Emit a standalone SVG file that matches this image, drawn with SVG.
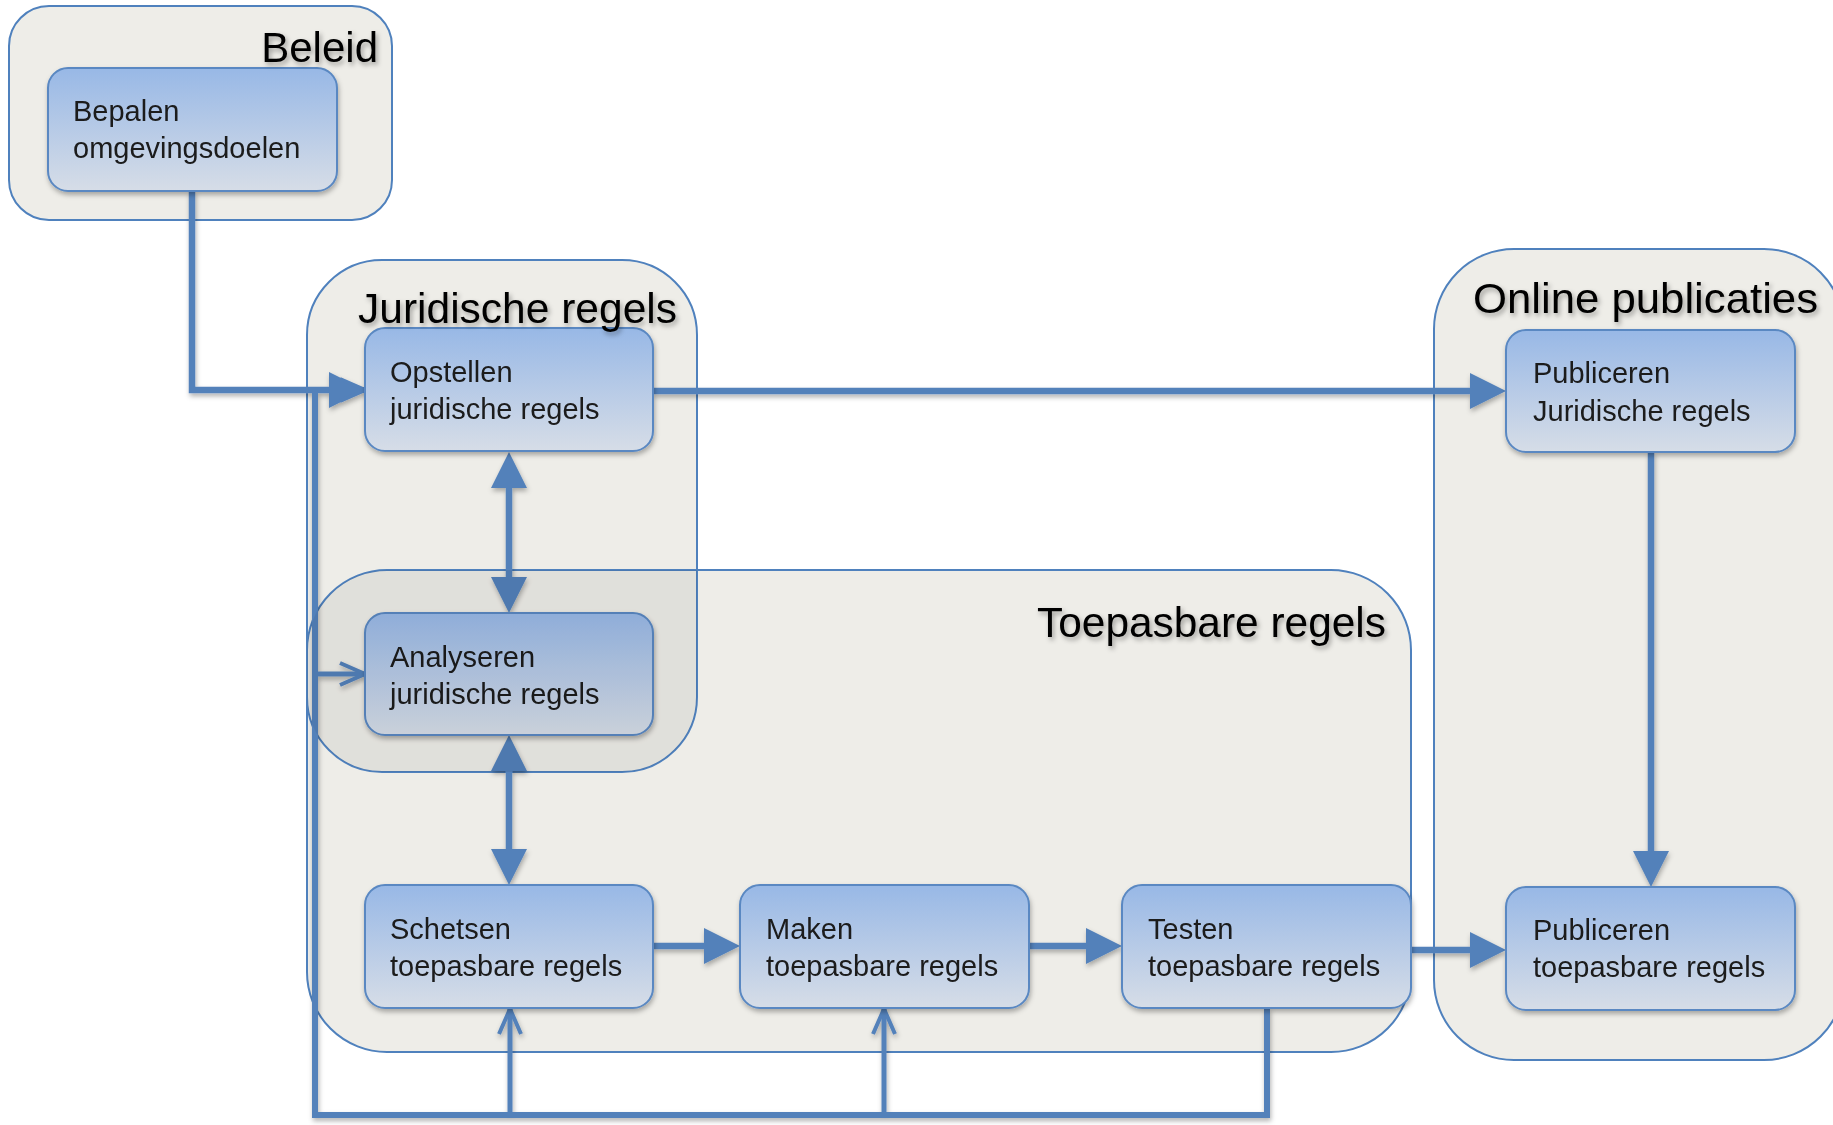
<svg xmlns="http://www.w3.org/2000/svg" width="1833" height="1125" viewBox="0 0 1833 1125">
<style>
.cont{fill:#EEEDE8;stroke:none}
.cstroke{fill:none;stroke:#4F81BD;stroke-width:2}
.title{font-family:"Liberation Sans",Arial,sans-serif;font-size:42px;fill:#000}
.node rect{fill:url(#ng);stroke:#5A88C2;stroke-width:2}
.node text{font-family:"Liberation Sans",Arial,sans-serif;font-size:29px;fill:#1a1a1a}
.thick{fill:none;stroke:#5381BA;stroke-width:6.5}
.thin{fill:none;stroke:#5381BA;stroke-width:5}
.loop{fill:none;stroke:#5381BA;stroke-width:6}
</style>
<defs>
<linearGradient id="ng" x1="0" y1="0" x2="0" y2="1">
<stop offset="0" stop-color="#98B8E6"/>
<stop offset="1" stop-color="#D6DDE7"/>
</linearGradient>
<filter id="sh" x="-10%" y="-10%" width="130%" height="140%">
<feDropShadow dx="1" dy="3" stdDeviation="2.5" flood-color="#000" flood-opacity="0.3"/>
</filter>
<filter id="tsh" x="-10%" y="-20%" width="130%" height="150%">
<feDropShadow dx="2" dy="3" stdDeviation="2.5" flood-color="#000" flood-opacity="0.35"/>
</filter>
<marker id="head" viewBox="0 0 36 36" refX="0" refY="18" markerWidth="36" markerHeight="36" markerUnits="userSpaceOnUse" orient="auto-start-reverse">
<path d="M0,0 L36,18 L0,36 Z" fill="#5381BA"/>
</marker>
<marker id="open" viewBox="-3 -3 31 28" refX="25" refY="11" markerWidth="31" markerHeight="28" markerUnits="userSpaceOnUse" orient="auto" overflow="visible">
<path d="M0,0 L25,11 L0,22" fill="none" stroke="#5381BA" stroke-width="4"/>
</marker>
<clipPath id="jclip">
<rect x="307" y="260" width="390" height="512" rx="75" ry="75"/>
</clipPath>
</defs>

<g id="containers">
<g id="beleid">
<rect class="cont" x="9" y="6" width="383" height="214" rx="40" ry="40"/>
<rect class="cstroke" x="9" y="6" width="383" height="214" rx="40" ry="40"/>
</g>
<g id="online-publicaties">
<rect class="cont" x="1434" y="249" width="410" height="811" rx="80" ry="80"/>
<rect class="cstroke" x="1434" y="249" width="410" height="811" rx="80" ry="80"/>
</g>
<g id="juridische-toepasbare">
<rect class="cont" x="307" y="570" width="1104" height="482" rx="80" ry="80"/>
<rect class="cont" x="307" y="260" width="390" height="512" rx="75" ry="75"/>
<rect class="cstroke" x="307" y="570" width="1104" height="482" rx="80" ry="80"/>
<rect class="cstroke" x="307" y="260" width="390" height="512" rx="75" ry="75"/>
</g>
</g>

<g id="connectors" filter="url(#sh)">
<path class="thick" d="M192,191 V390 H329" marker-end="url(#head)"/>
<path class="thick" d="M653,391 H1470" marker-end="url(#head)"/>
<path class="thick" d="M1651,452 V851" marker-end="url(#head)"/>
<path class="thick" d="M509,488 V577" marker-start="url(#head)" marker-end="url(#head)"/>
<path class="thick" d="M509,771 V849" marker-start="url(#head)" marker-end="url(#head)"/>
<path class="thick" d="M653,946 H704" marker-end="url(#head)"/>
<path class="thick" d="M1029,946 H1086" marker-end="url(#head)"/>
<path class="thick" d="M1411,950 H1470" marker-end="url(#head)"/>
<path class="loop" d="M1267,1008 V1115 H315 V390 H365" marker-end="url(#open)"/>
<path class="thin" d="M315,674 H365" marker-end="url(#open)"/>
<path class="thin" d="M510,1115 V1009" marker-end="url(#open)"/>
<path class="thin" d="M884,1115 V1009" marker-end="url(#open)"/>
</g>

<g id="node-bepalen" class="node" filter="url(#sh)">
<rect x="48" y="68" width="289" height="123" rx="20" ry="20"/>
<text x="73" y="121">Bepalen</text>
<text x="73" y="158">omgevingsdoelen</text>
</g>
<g id="node-opstellen" class="node" filter="url(#sh)">
<rect x="365" y="328" width="288" height="123" rx="20" ry="20"/>
<text x="390" y="382">Opstellen</text>
<text x="390" y="419">juridische regels</text>
</g>
<g id="node-analyseren" class="node" filter="url(#sh)">
<rect x="365" y="613" width="288" height="122" rx="20" ry="20"/>
<text x="390" y="667">Analyseren</text>
<text x="390" y="704">juridische regels</text>
</g>
<g id="node-schetsen" class="node" filter="url(#sh)">
<rect x="365" y="885" width="288" height="123" rx="20" ry="20"/>
<text x="390" y="939">Schetsen</text>
<text x="390" y="976">toepasbare regels</text>
</g>
<g id="node-maken" class="node" filter="url(#sh)">
<rect x="740" y="885" width="289" height="123" rx="20" ry="20"/>
<text x="766" y="939">Maken</text>
<text x="766" y="976">toepasbare regels</text>
</g>
<g id="node-testen" class="node" filter="url(#sh)">
<rect x="1122" y="885" width="289" height="123" rx="20" ry="20"/>
<text x="1148" y="939">Testen</text>
<text x="1148" y="976">toepasbare regels</text>
</g>
<g id="node-publiceren-juridisch" class="node" filter="url(#sh)">
<rect x="1506" y="330" width="289" height="122" rx="20" ry="20"/>
<text x="1533" y="383">Publiceren</text>
<text x="1533" y="421">Juridische regels</text>
</g>
<g id="node-publiceren-toepasbaar" class="node" filter="url(#sh)">
<rect x="1506" y="887" width="289" height="123" rx="20" ry="20"/>
<text x="1533" y="940">Publiceren</text>
<text x="1533" y="977">toepasbare regels</text>
</g>

<g id="overlap-tint" clip-path="url(#jclip)">
<rect x="307" y="570" width="1104" height="482" rx="80" ry="80" fill="#000" fill-opacity="0.055"/>
</g>

<g id="container-titles" filter="url(#tsh)">
<text class="title" x="378" y="62" text-anchor="end">Beleid</text>
<text class="title" x="1473" y="313" textLength="345" lengthAdjust="spacingAndGlyphs">Online publicaties</text>
<text class="title" x="358" y="323" textLength="319" lengthAdjust="spacingAndGlyphs">Juridische regels</text>
<text class="title" x="1037" y="637" textLength="349" lengthAdjust="spacingAndGlyphs">Toepasbare regels</text>
</g>
</svg>
